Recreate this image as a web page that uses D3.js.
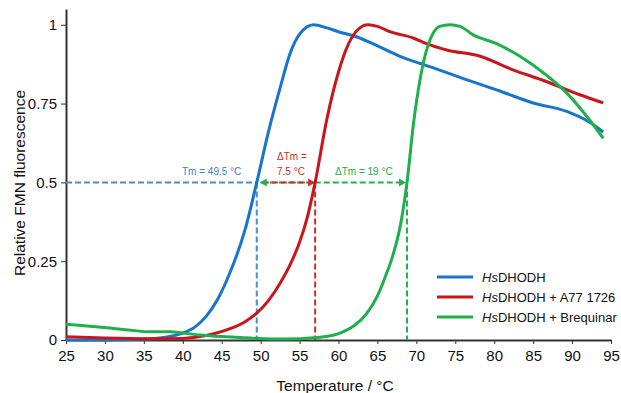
<!DOCTYPE html>
<html>
    <head>
        <title>FMN thermal shift</title>
        <script src="https://d3js.org/d3.v7.min.js"></script>
        <style>
            body {
                margin: 0;
                background: white;
            }
            svg {
                width: 621px;
                height: 393px;
                font-family: "Liberation Sans", Arial, sans-serif;
            }
            .curve {
                fill: none;
                stroke-width: 3;
                stroke-linejoin: round;
            }
            .axis path, .axis line {
                stroke: #333;
            }
            .axis path {
                stroke-width: 2;
            }
            .axis text {
                font-size: 15px;
                fill: #111;
            }
        </style>
    </head>
    <body>
        <svg></svg>
    </body>
    <script>
        // values
        let hsTemp = [25, 30, 35, 37, 38.5, 40, 41.5, 43, 44.5, 46, 48, 49.5, 51, 52.5, 53.8, 55, 56.8, 58.5, 60, 62.3, 64.4, 67.9, 70.5, 72.2, 76.5, 80.7, 85, 89.3, 92.3, 94];
        let hsVal  = [0, 0, 0.003, 0.006, 0.012, 0.022, 0.04, 0.075, 0.13, 0.21, 0.35, 0.5, 0.66, 0.8, 0.91, 0.97, 1.0, 0.99, 0.978, 0.962, 0.94, 0.9, 0.877, 0.863, 0.825, 0.79, 0.752, 0.725, 0.69, 0.66];

        let a77Temp = [25, 30, 35, 40, 42, 44, 46, 48, 49.5, 51, 52.5, 54, 55, 56, 57, 58.5, 60, 61.3, 62.5, 63.8, 65, 66.6, 69.6, 71.3, 73.9, 78.2, 82.4, 86.7, 91, 94];
        let a77Val  = [0.01, 0.006, 0.004, 0.005, 0.01, 0.02, 0.035, 0.058, 0.085, 0.125, 0.18, 0.25, 0.31, 0.39, 0.5, 0.7, 0.85, 0.94, 0.985, 1.0, 0.995, 0.978, 0.958, 0.94, 0.92, 0.9, 0.857, 0.82, 0.778, 0.752];

        let breqTemp = [25, 27, 30.6, 33, 35.8, 38.4, 40, 42.2, 45.7, 49.5, 53, 57.2, 59.3, 60.5, 62, 63.5, 65, 66, 67, 68, 68.8, 69.6, 70.5, 71.2, 71.8, 73, 74.3, 75.6, 77.3, 80.3, 83.3, 86.7, 89.3, 91.9, 94];
        let breqVal  = [0.05, 0.046, 0.038, 0.032, 0.026, 0.026, 0.022, 0.016, 0.01, 0.005, 0.003, 0.008, 0.015, 0.025, 0.045, 0.08, 0.14, 0.2, 0.27, 0.37, 0.5, 0.68, 0.83, 0.91, 0.955, 0.995, 1.0, 0.995, 0.968, 0.94, 0.9, 0.84, 0.784, 0.709, 0.64];

        let seriesNames = ['DHODH', 'DHODH + A77 1726', 'DHODH + Brequinar'];
        let seriesColors = ['#1874cd', '#c8161d', '#1db04b'];

        let xTicks = [25, 30, 35, 40, 45, 50, 55, 60, 65, 70, 75, 80, 85, 90, 95];
        let yTicks = [0, 0.25, 0.5, 0.75, 1];
        let yTickLabels = ['0', '0.25', '0.5', '0.75', '1'];

        let tmBase = 49.5;      // HsDHODH Tm
        let tmA77 = 57;         // + A77 1726
        let tmBreq = 68.8;      // + Brequinar

        let svg = d3.select('svg');
        let margin = {top: 9, bottom: 53, right: 10, left: 66};
        let width = 621 - margin.left - margin.right;
        let height = 393 - margin.top - margin.bottom;

        let g = svg.append('g')
                    .attr('transform', `translate(${margin.left}, ${margin.top})`);

        let x = d3.scaleLinear().domain([25, 95]).range([0, width]);
        let y = d3.scaleLinear().domain([0, 1.05]).range([height, 0]);

        g.append('g')
            .attr('class', 'axis')
            .call(d3.axisLeft(y).tickValues(yTicks)
                .tickFormat((d, i) => yTickLabels[i])
                .tickSizeInner(5).tickSizeOuter(0).tickPadding(4));

        g.append('g')
            .attr('class', 'axis')
            .attr('transform', `translate(0,${height})`)
            .call(d3.axisBottom(x).tickValues(xTicks)
                .tickSizeInner(4).tickSizeOuter(0).tickPadding(6));

        // axis titles
        svg.append('text')
            .attr('x', 335).attr('y', 391)
            .attr('text-anchor', 'middle')
            .style('font-size', '15.5px').style('fill', '#111')
            .text('Temperature / °C');
        svg.append('text')
            .attr('transform', 'translate(25, 183) rotate(-90)')
            .attr('text-anchor', 'middle')
            .style('font-size', '15.5px').style('fill', '#111')
            .text('Relative FMN fluorescence');

        // dashed guide lines
        let dashed = (x1, y1, x2, y2, color) => {
            g.append('line')
                .attr('x1', x1).attr('y1', y1).attr('x2', x2).attr('y2', y2)
                .style('stroke', color).style('stroke-width', 2)
                .style('stroke-dasharray', '6,3');
        };
        let head = (tx, ty, dir, color) => {
            g.append('path')
                .attr('d', `M${tx},${ty} l${-7 * dir},-4 l0,8 z`)
                .style('fill', color);
        };

        dashed(0, y(0.5), x(tmBase), y(0.5), '#4a8ad8');
        dashed(x(tmBase), y(0.5), x(tmBase), y(0), '#4a8ad8');
        dashed(x(tmBase) + 4, y(0.5), x(tmBreq) - 3, y(0.5), '#22b24c');
        dashed(x(tmBase) + 6, y(0.5), x(tmA77) - 3, y(0.5), '#d02a2a');
        dashed(x(tmA77), y(0.5), x(tmA77), y(0), '#d02a2a');
        dashed(x(tmBreq), y(0.5), x(tmBreq), y(0), '#22b24c');
        head(x(tmBase) + 3, y(0.5), -1, '#22b24c');
        head(x(tmA77), y(0.5), 1, '#d02a2a');
        head(x(tmBreq) - 1, y(0.5), 1, '#22b24c');

        // curves
        let series = [
            hsTemp.map((t, i) => [t, hsVal[i]]),
            a77Temp.map((t, i) => [t, a77Val[i]]),
            breqTemp.map((t, i) => [t, breqVal[i]])
        ];
        let line = d3.line()
                    .x(d => x(d[0]))
                    .y(d => y(d[1]))
                    .curve(d3.curveMonotoneX);

        g.selectAll('.curve')
            .data(series)
            .join('path')
            .attr('class', 'curve')
            .attr('d', line)
            .style('stroke', (d, i) => seriesColors[i]);

        // annotations
        let note = (tx, ty, txt, color) => {
            svg.append('text')
                .attr('x', tx).attr('y', ty)
                .style('font-size', '10px').style('fill', color)
                .text(txt);
        };
        note(182, 175, 'Tm = 49.5 °C', '#3d80d6');
        note(277, 160, 'ΔTm =', '#d02a2a');
        note(277, 175, '7.5 °C', '#d02a2a');
        note(335, 175, 'ΔTm = 19 °C', '#22b24c');

        // legend
        let legend = svg.append('g').attr('transform', 'translate(437, 277)');
        let items = legend.selectAll('g')
                        .data(seriesNames)
                        .join('g')
                        .attr('transform', (d, i) => `translate(0, ${i * 20})`);
        items.append('line')
            .attr('x1', 0).attr('x2', 36)
            .style('stroke', (d, i) => seriesColors[i])
            .style('stroke-width', 3);
        let lbl = items.append('text')
            .attr('x', 45).attr('y', 5)
            .style('font-size', '13px').style('fill', '#111');
        lbl.append('tspan').style('font-style', 'italic').text('Hs');
        lbl.append('tspan').text(d => d);
    </script>
</html>
